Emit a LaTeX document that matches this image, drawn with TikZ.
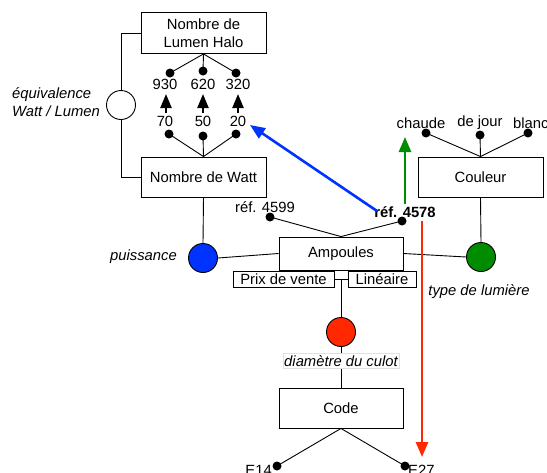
\documentclass[tikz,border=0pt]{standalone}
\usepackage{fontspec}
\setmainfont{Liberation Sans}
\usetikzlibrary{arrows.meta}
\definecolor{cblue}{RGB}{0,51,255}
\definecolor{cgreen}{RGB}{0,140,0}
\definecolor{cred}{RGB}{255,40,0}
\begin{document}
\begin{tikzpicture}[x=1pt,y=-1pt,
  every node/.style={font=\fontsize{14.8}{17.5}\selectfont, inner sep=0pt},
  box/.style={draw, line width=0.9pt, minimum width=125pt, minimum height=40pt, align=center},
  sbox/.style={draw, line width=0.9pt, minimum height=16pt},
  rel/.style={circle, draw, line width=0.9pt, minimum size=29pt},
  dot/.style={circle, fill=black, minimum size=9pt},
  lab/.style={font=\fontsize{14.8}{17.5}\selectfont\itshape},
  con/.style={line width=0.9pt},
  bigarr/.style={line width=2.2pt, -{Triangle[width=11pt,length=14pt]}},
  colarr/.style={line width=2.6pt, -{Triangle[width=12pt,length=15pt]}}
]
\useasboundingbox[fill=white] (0,0) rectangle (547,472);

% boxes
\node[box, minimum height=41pt] (lumen) at (203.5,33) {Nombre de\\Lumen Halo};
\node[box] (watt) at (203.5,177) {Nombre de Watt};
\node[box] (couleur) at (480.5,177) {Couleur};
\node[box, minimum width=124pt, minimum height=33pt] (amp) at (341,253.5) {Ampoules};
\node[sbox, minimum width=101pt] (prix) at (283.5,279) {Prix de vente};
\node[sbox, minimum width=68pt] (lin) at (382,279) {Linéaire};
\node[box, minimum width=124pt] (code) at (341,408) {Code};

% relation circles
\node[rel, fill=white] (equiv) at (121,105) {};
\node[rel, fill=cblue] (puis) at (203,258) {};
\node[rel, fill=cgreen] (type) at (481,257) {};
\node[rel, fill=cred] (diam) at (341,332) {};

% labels of relations
\node[lab, anchor=west, align=left] (eqlab) at (12,102) {équivalence\\Watt / Lumen};
\node[lab, anchor=east] (puislab) at (177,257) {puissance};
\node[lab] (typelab) at (479,292) {type de lumière};
\node[lab, fill=white, draw=black!12, line width=0.5pt, inner xsep=1pt, inner ysep=2pt] (diamlab) at (341,361) {diamètre du culot};

% connectors
\coordinate (eqtop) at (121,33);
\coordinate (eqbot) at (121,177);
\draw[con] (lumen.west) -- (eqtop) -- (equiv.north);
\draw[con] (equiv.south) -- (eqbot) -- (watt.west);
\draw[con] (watt.south) -- (puis.north);
\draw[con] (puis.east) -- (amp.west);
\draw[con] (amp.east) -- (type.west);
\draw[con] (type.north) -- (couleur.south);
\draw[con] (prix.east) -- (lin.west);
\coordinate (tj) at (341,279);
\draw[con] (tj) -- (diam.north);
\draw[con] (diam.south) -- (diamlab.north);
\draw[con] (diamlab.south) -- (code.north);

% lumen values
\node[dot] (d930) at (170,73) {};
\node[dot] (d620) at (203,71) {};
\node[dot] (d320) at (236,73) {};
\draw[con] (lumen.south) -- (d930.center);
\draw[con] (lumen.south) -- (d620.center);
\draw[con] (lumen.south) -- (d320.center);
\node (t930) at (165,84) {930};
\node (t620) at (203,84) {620};
\node (t320) at (238,84) {320};

% watt values
\node[dot] (d70) at (169,134) {};
\node[dot] (d50) at (203,136) {};
\node[dot] (d20) at (236,134) {};
\draw[con] (watt.north) -- (d70.center);
\draw[con] (watt.north) -- (d50.center);
\draw[con] (watt.north) -- (d20.center);
\node (t70) at (165,121) {70};
\node (t50) at (203,121) {50};
\node (t20) at (238,121) {20};

% equivalence arrows
\coordinate (a1s) at (166,113); \coordinate (a1e) at (166,94);
\coordinate (a2s) at (203,113); \coordinate (a2e) at (203,94);
\coordinate (a3s) at (238,113); \coordinate (a3e) at (238,94);
\draw[bigarr] (a1s) -- (a1e);
\draw[bigarr] (a2s) -- (a2e);
\draw[bigarr] (a3s) -- (a3e);

% couleur values
\node[dot] (dch) at (426,133) {};
\node[dot] (dj) at (480,135) {};
\node[dot] (dbl) at (528,133) {};
\draw[con] (couleur.north) -- (dch.center);
\draw[con] (couleur.north) -- (dj.center);
\draw[con] (couleur.north) -- (dbl.center);
\node (tch) at (421,123) {chaude};
\node (tj2) at (480,123) {de jour};
\node[anchor=west] (tbl) at (513,123) {blanc};

% ampoules references
\node[dot] (d4599) at (270,217) {};
\node[dot] (d4578) at (402,221) {};
\draw[con] (amp.north) -- (d4599.center);
\draw[con] (amp.north) -- (d4578.center);
\node (t4599) at (265,207) {réf. 4599};
\node[font=\fontsize{14.8}{17.5}\selectfont\bfseries] (t4578) at (405,212) {réf. 4578};

% code values
\node[dot] (de14) at (277,466) {};
\node[dot] (de27) at (405,466) {};
\draw[con] (code.south) -- (de14.center);
\draw[con] (code.south) -- (de27.center);
\node[anchor=east] (te14) at (272,470) {E14};
\node[anchor=west] (te27) at (408,470) {E27};

% coloured arrows
\coordinate (bs) at (377,211);
\coordinate (be) at (250,125);
\draw[colarr, cblue] (bs) -- (be);
\coordinate (gs) at (405,204);
\coordinate (ge) at (405,137);
\draw[colarr, cgreen] (gs) -- (ge);
\coordinate (rs) at (422,221);
\coordinate (re) at (422,457);
\draw[colarr, cred] (rs) -- (re);
\end{tikzpicture}
\end{document}
